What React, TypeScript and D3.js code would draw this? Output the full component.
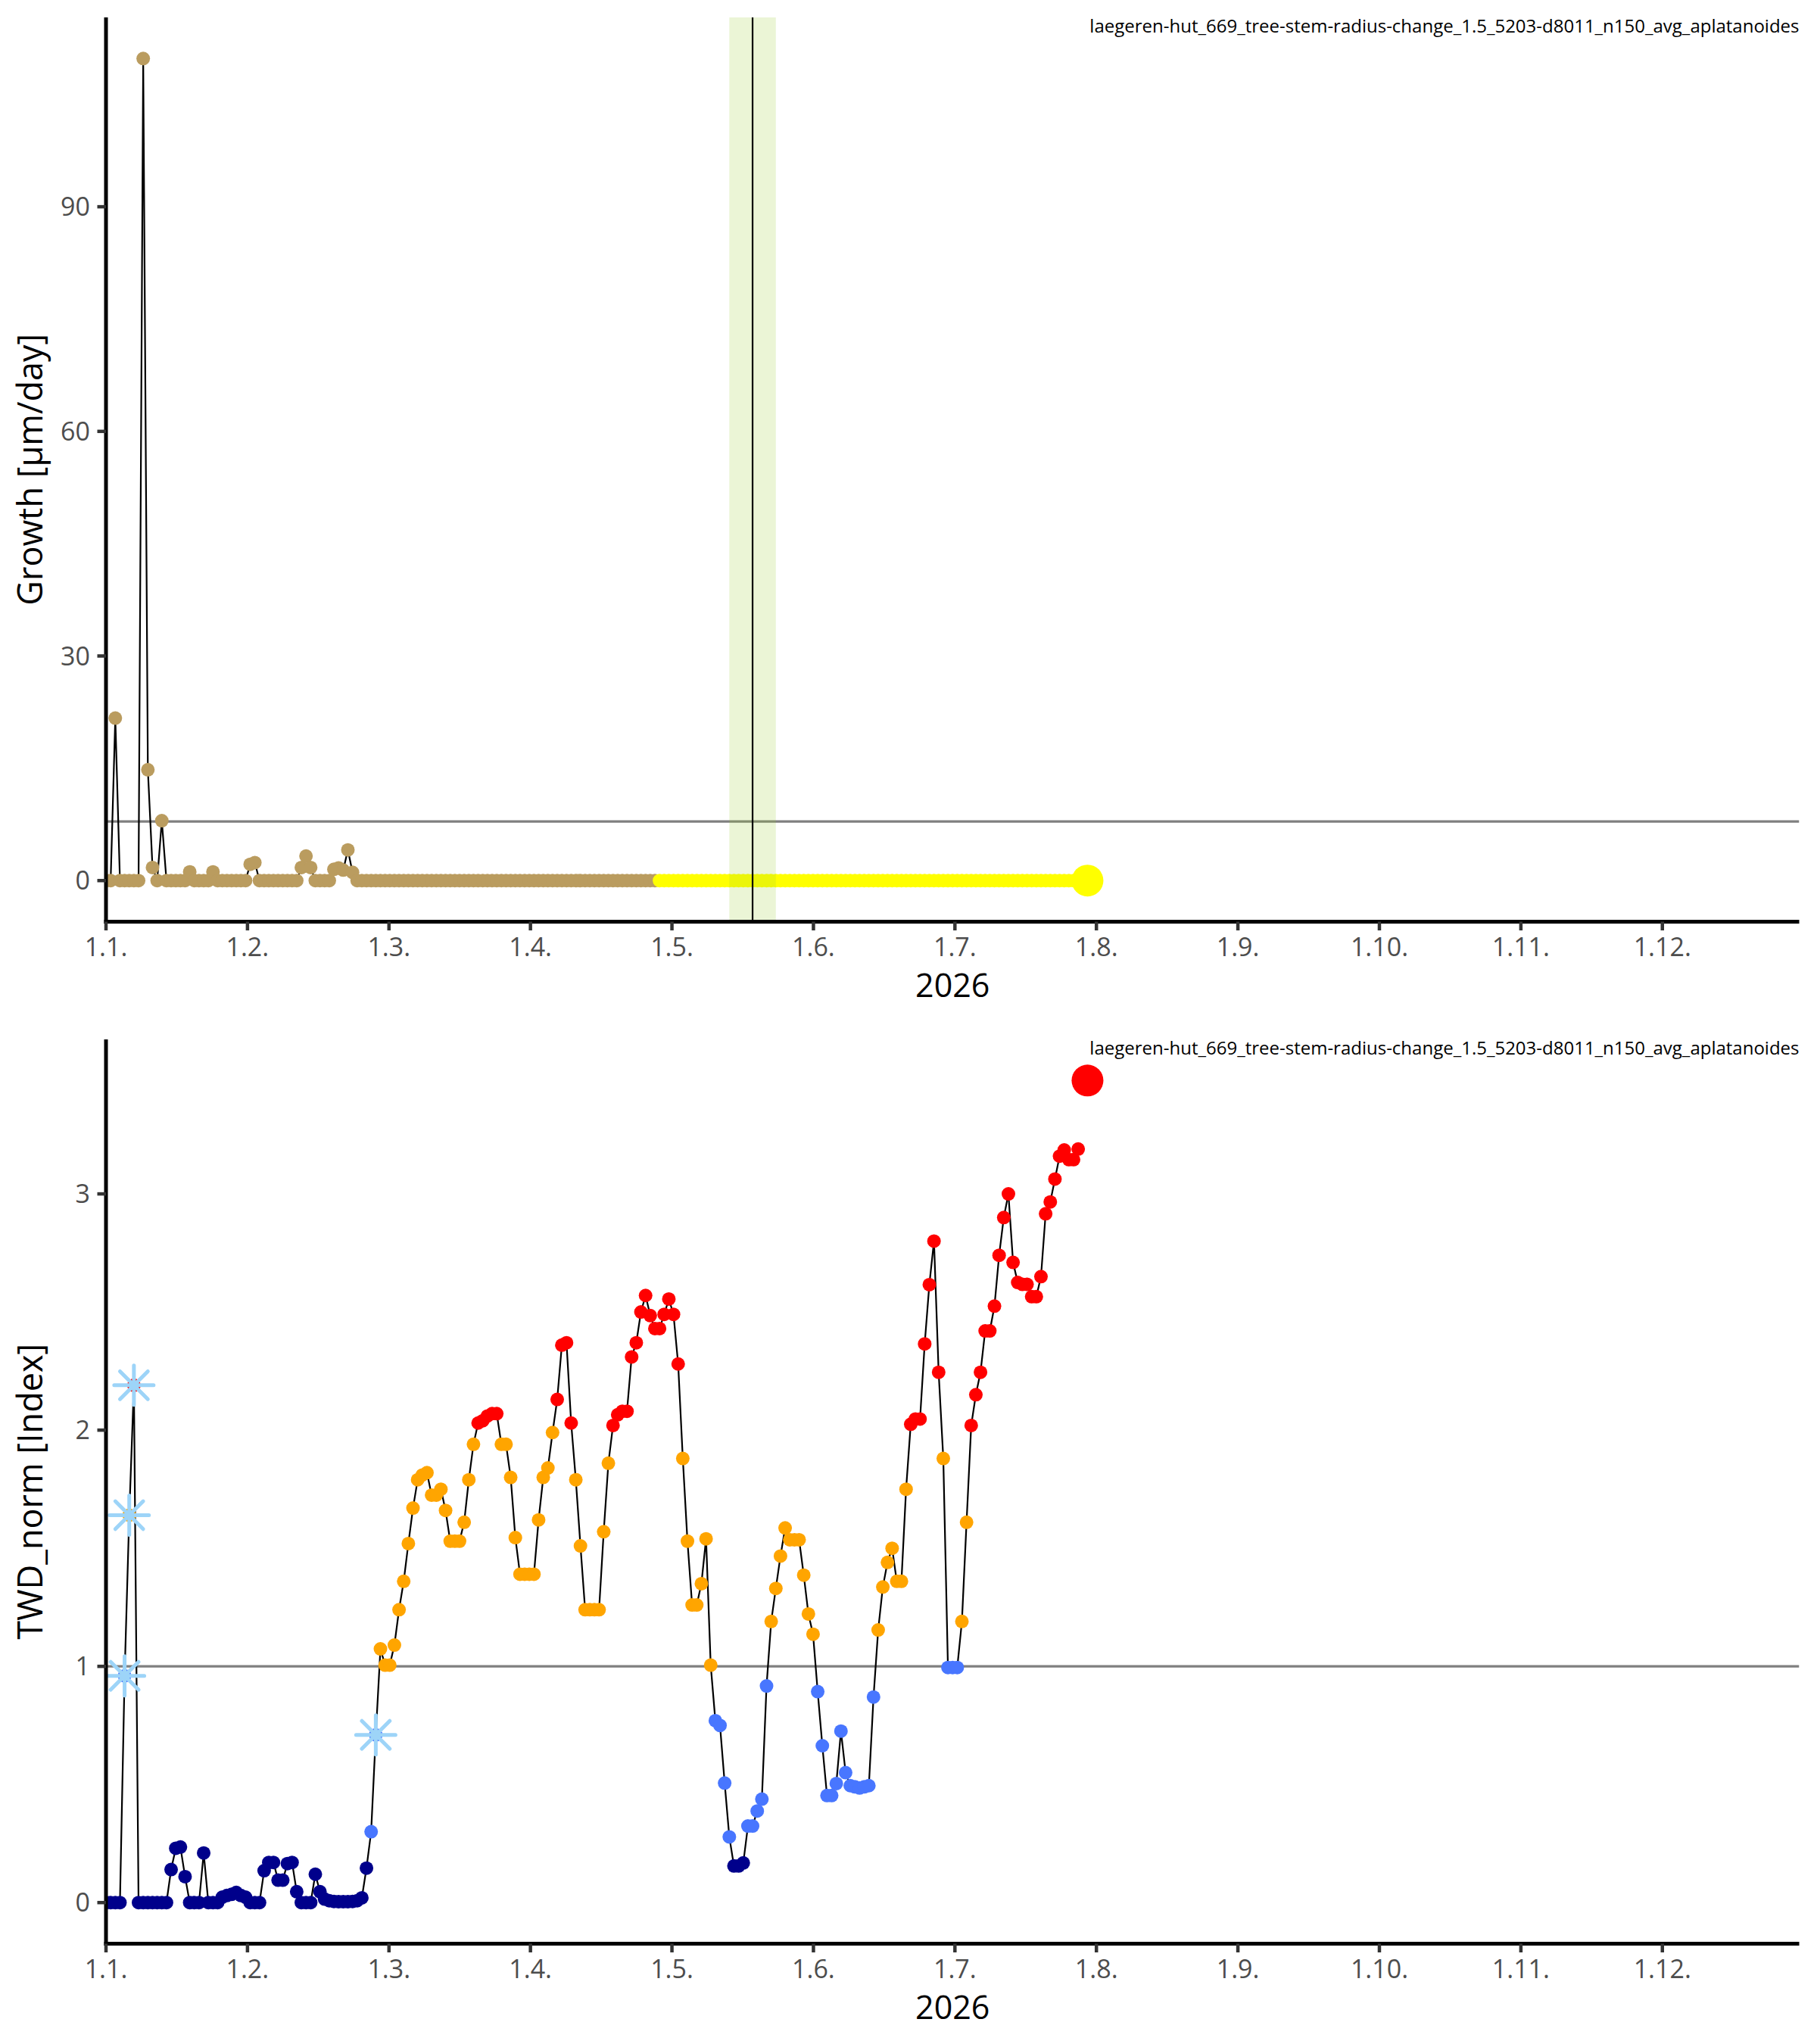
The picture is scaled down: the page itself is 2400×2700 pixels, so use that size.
import React from 'react';
import * as d3 from 'd3';

// ---------- data ----------
const monthLabels = ['1.1.', '1.2.', '1.3.', '1.4.', '1.5.', '1.6.', '1.7.', '1.8.', '1.9.', '1.10.', '1.11.', '1.12.'];
const yearLabel = '2026';
const plotTitle = 'laegeren-hut_669_tree-stem-radius-change_1.5_5203-d8011_n150_avg_aplatanoides';
const daysInYear = 365;
const lastAxisDay = 364;

// Growth [µm/day], one value per day starting 1 Jan (day 0) — measured part
const growthMeasured = [
  0, 0, 21.7, 0, 0, 0, 0, 0, 109.8, 14.8,
  1.75, 0, 8.0, 0, 0, 0, 0, 0, 1.17, 0,
  0, 0, 0, 1.17, 0, 0, 0, 0, 0, 0,
  0, 2.18, 2.4, 0, 0, 0, 0, 0, 0, 0,
  0, 0, 1.75, 3.27, 1.75, 0, 0, 0, 0, 1.5,
  1.7, 1.4, 4.1, 1.1, 0, 0, 0, 0, 0, 0,
  0, 0, 0, 0, 0, 0, 0, 0, 0, 0,
  0, 0, 0, 0, 0, 0, 0, 0, 0, 0,
  0, 0, 0, 0, 0, 0, 0, 0, 0, 0,
  0, 0, 0, 0, 0, 0, 0, 0, 0, 0,
  0, 0, 0, 0, 0, 0, 0, 0, 0, 0,
  0, 0, 0, 0, 0, 0, 0, 0, 0,
];
// days following the measured part (yellow, no growth)
const growthNoGrowth = [
  0, 0, 0, 0, 0, 0, 0, 0, 0, 0,
  0, 0, 0, 0, 0, 0, 0, 0, 0, 0,
  0, 0, 0, 0, 0, 0, 0, 0, 0, 0,
  0, 0, 0, 0, 0, 0, 0, 0, 0, 0,
  0, 0, 0, 0, 0, 0, 0, 0, 0, 0,
  0, 0, 0, 0, 0, 0, 0, 0, 0, 0,
  0, 0, 0, 0, 0, 0, 0, 0, 0, 0,
  0, 0, 0, 0, 0, 0, 0, 0, 0, 0,
  0, 0, 0, 0, 0, 0, 0, 0, 0, 0,
  0,
];
const growthCurrent = { day: 211, value: 0 };
const growthThreshold = 7.9;
const growthTicks = [0, 30, 60, 90];
const markerDay = 139;
const markerBand = [134, 144];

// TWD_norm [Index], one value per day starting 1 Jan (day 0)
const twdValues = [
  0, 0, 0, 0, 0.96, 1.64, 2.19, 0, 0, 0,
  0, 0, 0, 0, 0.14, 0.23, 0.235, 0.11, 0, 0,
  0, 0.21, 0, 0, 0, 0.023, 0.03, 0.035, 0.043, 0.03,
  0.023, 0, 0, 0, 0.135, 0.17, 0.17, 0.095, 0.095, 0.165,
  0.17, 0.046, 0, 0, 0, 0.12, 0.046, 0.015, 0.008, 0.005,
  0.004, 0.004, 0.004, 0.005, 0.008, 0.02, 0.146, 0.30, 0.71, 1.074,
  1.005, 1.005, 1.09, 1.24, 1.36, 1.52, 1.67, 1.79, 1.81, 1.82,
  1.725, 1.725, 1.75, 1.66, 1.53, 1.53, 1.53, 1.61, 1.79, 1.94,
  2.03, 2.04, 2.06, 2.07, 2.07, 1.94, 1.94, 1.80, 1.545, 1.39,
  1.39, 1.39, 1.39, 1.62, 1.80, 1.84, 1.99, 2.13, 2.36, 2.37,
  2.03, 1.79, 1.51, 1.24, 1.24, 1.24, 1.24, 1.57, 1.86, 2.02,
  2.065, 2.08, 2.08, 2.31, 2.37, 2.50, 2.57, 2.485, 2.43, 2.43,
  2.49, 2.555, 2.49, 2.28, 1.88, 1.53, 1.26, 1.26, 1.35, 1.54,
  1.005, 0.77, 0.75, 0.506, 0.278, 0.155, 0.155, 0.168, 0.324, 0.324,
  0.388, 0.438, 0.917, 1.19, 1.33, 1.467, 1.586, 1.536, 1.536, 1.536,
  1.386, 1.222, 1.136, 0.893, 0.664, 0.453, 0.453, 0.504, 0.726, 0.55,
  0.495, 0.49, 0.485, 0.49, 0.495, 0.87, 1.154, 1.336, 1.44, 1.50,
  1.36, 1.36, 1.75, 2.025, 2.047, 2.047, 2.365, 2.616, 2.80, 2.245,
  1.88, 0.995, 0.995, 0.995, 1.19, 1.61, 2.02, 2.15, 2.245, 2.42,
  2.42, 2.525, 2.74, 2.90, 3.0, 2.71, 2.625, 2.617, 2.617, 2.565,
  2.565, 2.65, 2.916, 2.966, 3.063, 3.16, 3.186, 3.145, 3.145, 3.19,
];
const twdFlaggedDays = [4, 5, 6, 58];
const twdCurrent = { day: 211, value: 3.48 };
const twdThreshold = 1;
const twdTicks = [0, 1, 2, 3];
const twdClassBreaks = [0.25, 1, 2];
const twdClassColors = ['#00008B', '#4876FF', '#FFA500', '#FF0000'];

// ---------- layout / style ----------
const W = 2400;
const H = 2700;
const PL = 140;
const PR = 2376.5;
const PANEL_H = 1194.5;
const TOP1 = 23;
const TOP2 = 1373;
const FONT = '"Open Sans", "Noto Sans", sans-serif';
const BROWN = '#BA9C5F';
const YELLOW = '#FFFF00';
const STAR = '#9DD4F8';
const PT_R = 9;
const BIG_R = 21;

const xScale = d3.scaleLinear().domain([0, lastAxisDay]).range([PL, PR]);
const monthTicks = monthLabels.map((lab, i) => ({ lab, day: (i * daysInYear) / 12 }));

function makeY(values: number[], top: number) {
  const max = d3.max(values) as number;
  const pad = max * 0.05;
  return d3.scaleLinear().domain([-pad, max + pad]).range([top + PANEL_H, top]);
}

function Frame({ top, y, ticks, yTitle, clipId, children }: any) {
  const bottom = top + PANEL_H;
  const cy = top + PANEL_H / 2;
  return (
    <g>
      <defs>
        <clipPath id={clipId}>
          <rect x={PL} y={top} width={PR - PL} height={PANEL_H} />
        </clipPath>
      </defs>
      <g clipPath={`url(#${clipId})`}>{children}</g>
      <text x={PR} y={top + 20} textAnchor="end" fontSize={24} fontFamily={FONT} fill="#000">
        {plotTitle}
      </text>
      {/* y axis */}
      <line x1={PL} x2={PL} y1={top} y2={bottom + 2.5} stroke="#000" strokeWidth={5} />
      {ticks.map((t: number) => (
        <g key={'y' + t}>
          <line x1={PL - 11.5} x2={PL} y1={y(t)} y2={y(t)} stroke="#333" strokeWidth={4.5} />
          <text x={119} y={y(t) + 12} textAnchor="end" fontSize={34} fontFamily={FONT} fill="#4D4D4D">
            {t}
          </text>
        </g>
      ))}
      {/* x axis */}
      <line x1={PL - 2.5} x2={PR} y1={bottom} y2={bottom} stroke="#000" strokeWidth={5} />
      {monthTicks.map((m) => (
        <g key={m.lab}>
          <line x1={xScale(m.day)} x2={xScale(m.day)} y1={bottom} y2={bottom + 11.5} stroke="#333" strokeWidth={4.5} />
          <text x={xScale(m.day)} y={bottom + 45.5} textAnchor="middle" fontSize={34} fontFamily={FONT} fill="#4D4D4D">
            {m.lab}
          </text>
        </g>
      ))}
      <text x={(PL + PR) / 2} y={bottom + 99} textAnchor="middle" fontSize={43} fontFamily={FONT} fill="#000">
        {yearLabel}
      </text>
      <text
        transform={`translate(56,${cy}) rotate(-90)`}
        textAnchor="middle"
        fontSize={45}
        fontFamily={FONT}
        fill="#000"
      >
        {yTitle}
      </text>
    </g>
  );
}

export default function App() {
  // ---- top panel ----
  const gMeasured = growthMeasured.map((v, i) => ({ day: i, value: v }));
  const gNoGrowth = growthNoGrowth.map((v, i) => ({ day: growthMeasured.length + i, value: v }));
  const gAll = gMeasured.concat(gNoGrowth);
  const yG = makeY(gAll.map((d) => d.value).concat([growthCurrent.value]), TOP1);
  const lineG = d3
    .line<{ day: number; value: number }>()
    .x((d) => xScale(d.day))
    .y((d) => yG(d.value));

  // ---- bottom panel ----
  const twd = twdValues.map((v, i) => ({ day: i, value: v }));
  const yT = makeY(twdValues.concat([twdCurrent.value]), TOP2);
  const lineT = d3
    .line<{ day: number; value: number }>()
    .x((d) => xScale(d.day))
    .y((d) => yT(d.value));
  const colorT = d3.scaleThreshold<number, string>().domain(twdClassBreaks).range(twdClassColors);
  const starArm = 26;
  const starDiag = starArm / Math.SQRT2;
  const starPath = `M${-starArm},0H${starArm}M0,${-starArm}V${starArm}M${-starDiag},${-starDiag}L${starDiag},${starDiag}M${-starDiag},${starDiag}L${starDiag},${-starDiag}`;

  return (
    <svg
      width={W}
      height={H}
      viewBox={`0 0 ${W} ${H}`}
      style={{ position: 'absolute', left: 0, top: 0, background: '#fff' }}
    >
      <rect x={0} y={0} width={W} height={H} fill="#fff" />
      <Frame top={TOP1} y={yG} ticks={growthTicks} yTitle="Growth [µm/day]" clipId="clipTop">
        <line x1={PL} x2={PR} y1={yG(growthThreshold)} y2={yG(growthThreshold)} stroke="#7F7F7F" strokeWidth={3.3} />
        <path d={lineG(gAll) || ''} fill="none" stroke="#000" strokeWidth={2.2} />
        {gMeasured.map((d) => (
          <circle key={'gm' + d.day} cx={xScale(d.day)} cy={yG(d.value)} r={PT_R} fill={BROWN} />
        ))}
        {gNoGrowth.map((d) => (
          <circle key={'gn' + d.day} cx={xScale(d.day)} cy={yG(d.value)} r={PT_R} fill={YELLOW} />
        ))}
        <circle cx={xScale(growthCurrent.day)} cy={yG(growthCurrent.value)} r={BIG_R} fill={YELLOW} />
        <rect
          x={xScale(markerBand[0])}
          y={TOP1}
          width={xScale(markerBand[1]) - xScale(markerBand[0])}
          height={PANEL_H}
          fill="yellowgreen"
          fillOpacity={0.2}
        />
        <line x1={xScale(markerDay)} x2={xScale(markerDay)} y1={TOP1} y2={TOP1 + PANEL_H} stroke="#000" strokeWidth={2.2} />
      </Frame>

      <Frame top={TOP2} y={yT} ticks={twdTicks} yTitle="TWD_norm [Index]" clipId="clipBottom">
        <line x1={PL} x2={PR} y1={yT(twdThreshold)} y2={yT(twdThreshold)} stroke="#7F7F7F" strokeWidth={3.3} />
        <path d={lineT(twd) || ''} fill="none" stroke="#000" strokeWidth={2.2} />
        {twd.map((d) => (
          <circle key={'t' + d.day} cx={xScale(d.day)} cy={yT(d.value)} r={PT_R} fill={colorT(d.value)} />
        ))}
        {twdFlaggedDays.map((day) => (
          <path
            key={'s' + day}
            d={starPath}
            transform={`translate(${xScale(day)},${yT(twdValues[day])})`}
            stroke={STAR}
            strokeWidth={5}
            strokeLinecap="round"
            fill="none"
          />
        ))}
        <circle cx={xScale(twdCurrent.day)} cy={yT(twdCurrent.value)} r={BIG_R} fill={colorT(twdCurrent.value)} />
      </Frame>
    </svg>
  );
}
